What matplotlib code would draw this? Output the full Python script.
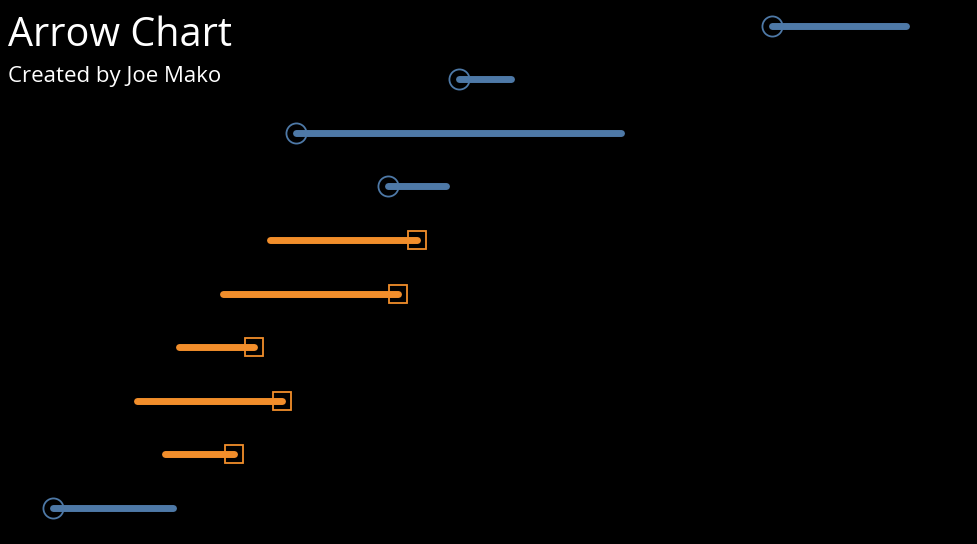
import matplotlib.pyplot as plt

rows = list(range(10))
marker_val = [772, 459, 296, 388, 417, 398, 254, 282, 234, 53]
other_val = [906, 511, 621, 446, 270, 223, 179, 137, 165, 173]

blue = "#4e79a7"
orange = "#f28e2b"

fig = plt.figure(figsize=(9.78, 5.44), dpi=100, facecolor="black")
ax = fig.add_axes([0, 0, 1, 1])
ax.set_facecolor("black")

for r, m, o in zip(rows, marker_val, other_val):
    if o > m:
        ax.plot([m], [r], marker="o", ms=14.5, mfc="none", mec=blue, mew=1.3, zorder=2)
        ax.plot([m, o], [r, r], color=blue, lw=5, solid_capstyle="round", zorder=3)
    else:
        ax.plot([m], [r], marker="s", ms=13.5, mfc="none", mec=orange, mew=1.3, zorder=2)
        ax.plot([o, m], [r, r], color=orange, lw=5, solid_capstyle="round", zorder=3)

ax.set_xlim(0, 978)
ax.set_ylim(9.67, -0.476)
ax.axis("off")

fig.text(8 / 978, 1 - 46 / 544, "Arrow Chart", color="white", fontsize=28.5,
         family="Open Sans", ha="left", va="baseline")
fig.text(8 / 978, 1 - 82 / 544, "Created by Joe Mako", color="white", fontsize=16,
         family="Open Sans", ha="left", va="baseline")

fig.savefig("out.png", dpi=100, facecolor="black")
